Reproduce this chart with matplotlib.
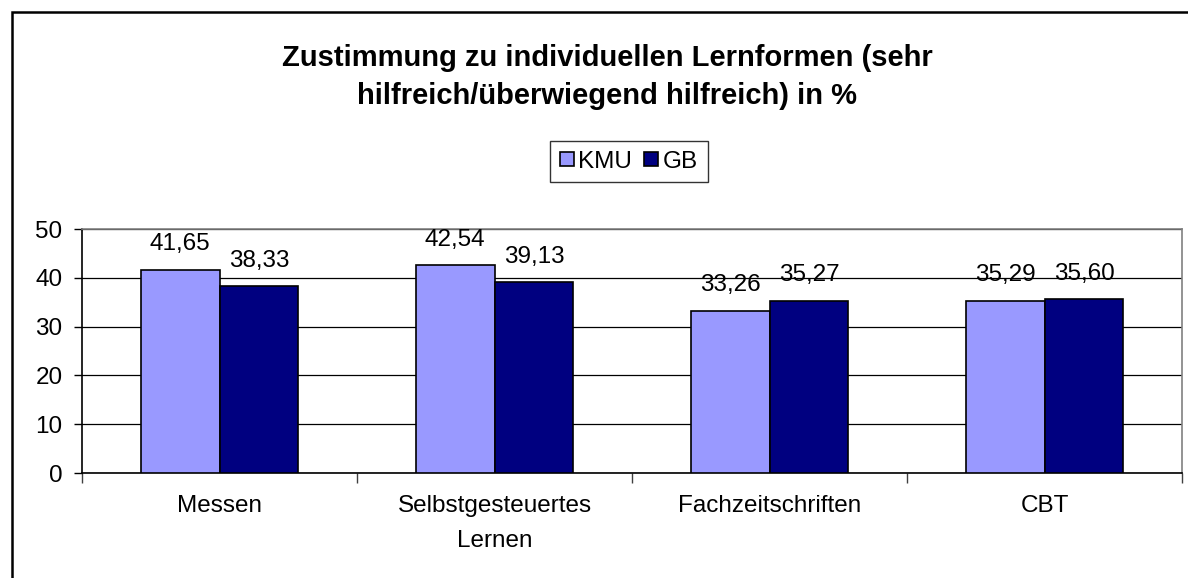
import matplotlib
matplotlib.use('Agg')
import matplotlib.pyplot as plt
import numpy as np
from matplotlib.patches import Rectangle

plt.rcParams['font.family'] = ['Liberation Sans', 'DejaVu Sans']

categories = ['Messen', 'Selbstgesteuertes\nLernen', 'Fachzeitschriften', 'CBT']
kmu = [41.65, 42.54, 33.26, 35.29]
gb = [38.33, 39.13, 35.27, 35.60]
series_names = ['KMU', 'GB']
col_kmu = '#9999FF'
col_gb = '#000080'

W, H = 1188, 578
fs = 17.5
fig = plt.figure(figsize=(W / 100, H / 100), dpi=100)

# plot area in pixels: left 82, right 1182, top 229, bottom 473
ax = fig.add_axes([82 / W, 1 - 473 / H, 1100 / W, 244 / H])

x = np.arange(len(categories))
bw = 0.287
b1 = ax.bar(x - bw / 2, kmu, bw, color=col_kmu, edgecolor='black', linewidth=1.2, label=series_names[0], zorder=3)
b2 = ax.bar(x + bw / 2, gb, bw, color=col_gb, edgecolor='black', linewidth=1.2, label=series_names[1], zorder=3)

for bars, vals in ((b1, kmu), (b2, gb)):
    for r, v in zip(bars, vals):
        ax.annotate(f'{v:.2f}'.replace('.', ','), (r.get_x() + r.get_width() / 2, v),
                    xytext=(0, 14), textcoords='offset points',
                    ha='center', va='baseline', fontsize=fs)

ax.set_xlim(-0.5, len(categories) - 0.5)
ax.set_ylim(0, 50)
ax.set_yticks(range(0, 51, 10))
ax.tick_params(axis='y', labelsize=fs, length=6, width=1, direction='out', pad=8)
ax.set_xticks(np.arange(-0.5, len(categories), 1))
ax.set_xticklabels([])
ax.set_xticks(x, minor=True)
ax.set_xticklabels(categories, minor=True, fontsize=fs, linespacing=1.75)
ax.tick_params(axis='x', which='major', length=7, width=1, direction='out', color='#404040')
ax.tick_params(axis='x', which='minor', length=0, pad=16)

ax.yaxis.grid(True, color='black', linewidth=0.9, zorder=0)
ax.set_axisbelow(True)
ax.spines['left'].set_color('black')
ax.spines['bottom'].set_color('black')
ax.spines['top'].set_color('#808080')
ax.spines['right'].set_color('#808080')
for s in ax.spines.values():
    s.set_linewidth(1.2)

fig.text(607 / W, 1 - 77 / H,
         'Zustimmung zu individuellen Lernformen (sehr\nhilfreich/überwiegend hilfreich) in %',
         ha='center', va='center', fontsize=21, fontweight='bold', linespacing=1.45)

leg = fig.legend(handles=[b1, b2], labels=series_names, loc='center',
                 bbox_to_anchor=(629 / W, 1 - 161.5 / H), ncol=2, fontsize=fs,
                 frameon=True, fancybox=False, edgecolor='black', handlelength=0.55,
                 handleheight=0.55, handletextpad=0.2, columnspacing=0.5, borderpad=0.4)
leg.get_frame().set_linewidth(1.0)

# outer chart border
fig.patches.append(Rectangle((11.5 / W, -0.1), 1.2, 1 - 12.5 / H + 0.1, transform=fig.transFigure,
                             fill=False, edgecolor='black', linewidth=1.8))

fig.savefig('out.png', dpi=100)
